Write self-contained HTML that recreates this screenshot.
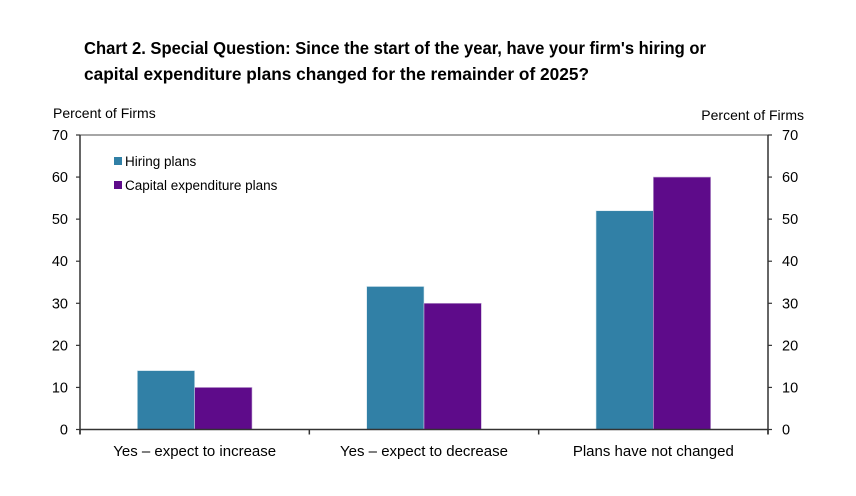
<!DOCTYPE html>
<html><head><meta charset="utf-8"><style>
body{margin:0;background:#fff;width:856px;height:491px;overflow:hidden;font-family:"Liberation Sans",Arial,sans-serif}
svg text{font-family:"Liberation Sans",Arial,sans-serif}
</style></head><body>
<svg id="chart" width="856" height="491">
<text x="84" y="54" font-size="17.5" font-weight="bold" fill="#000" textLength="622" lengthAdjust="spacingAndGlyphs">Chart 2. Special Question: Since the start of the year, have your firm's hiring or</text>
<text x="84" y="80" font-size="17.5" font-weight="bold" fill="#000" textLength="505" lengthAdjust="spacingAndGlyphs">capital expenditure plans changed for the remainder of 2025?</text>
<text x="53" y="118" font-size="14" fill="#000">Percent of Firms</text>
<text x="804" y="120" font-size="14" fill="#000" text-anchor="end">Percent of Firms</text>
<g id="plot"></g>
<g>
<rect x="114" y="157" width="8" height="8" fill="#3180a6"/>
<text x="125" y="166" font-size="13.5">Hiring plans</text>
<rect x="114" y="181" width="8" height="8" fill="#5e0b8a"/>
<text x="125" y="190" font-size="13.5">Capital expenditure plans</text>
</g>
</svg>
<script>
const categories=["Yes \u2013 expect to increase","Yes \u2013 expect to decrease","Plans have not changed"];
const hiring=[14,34,52];
const capex=[10,30,60];
const ticks=[0,10,20,30,40,50,60,70];
const L=80,R=768,T=135,B=429.5,ymax=70;
const y=v=>B-(v/ymax)*(B-T);
const cw=(R-L)/categories.length;
const g=document.getElementById('plot');
const NS='http://www.w3.org/2000/svg';
function mk(t,a){const e=document.createElementNS(NS,t);for(const k in a)e.setAttribute(k,a[k]);g.appendChild(e);return e;}
let e=mk('line',{x1:L,x2:R,y1:T,y2:T,stroke:'#888','stroke-width':1.5});


categories.forEach((c,i)=>{
 const cx=L+cw*(i+0.5),bw=cw*0.25;
 let b=mk('rect',{x:cx-bw,y:y(hiring[i]),width:bw,height:B-y(hiring[i]),fill:'#3180a6',stroke:'#d8e8f0','stroke-width':0.6});
 
 
 b=mk('rect',{x:cx,y:y(capex[i]),width:bw,height:B-y(capex[i]),fill:'#5e0b8a',stroke:'#c8b0d8','stroke-width':0.6});
 
 
 const t=mk('text',{x:cx,y:456,'font-size':15,'text-anchor':'middle'});t.textContent=c;
 
 
});
for(let i=0;i<=categories.length;i++){const x=L+cw*i;const tk=mk('line',{x1:x,x2:x,y1:B,y2:B+5,stroke:'#333','stroke-width':1.5});
 
 }
ticks.forEach(v=>{
 let a=mk('line',{x1:L-4,x2:L,y1:y(v),y2:y(v),stroke:'#333','stroke-width':1.2});
 
 
 a=mk('line',{x1:R,x2:R+4,y1:y(v),y2:y(v),stroke:'#333','stroke-width':1.2});
 
 
 let t=mk('text',{x:68,y:y(v)+5,'font-size':14.5,'text-anchor':'end'});t.textContent=v;
 
 
 t=mk('text',{x:782,y:y(v)+5,'font-size':14.5});t.textContent=v;
 
 
});
e=mk('line',{x1:L,x2:L,y1:T,y2:B+5,stroke:'#333','stroke-width':1.5});


e=mk('line',{x1:R,x2:R,y1:T,y2:B+5,stroke:'#333','stroke-width':1.5});


e=mk('line',{x1:L,x2:R,y1:B,y2:B,stroke:'#333','stroke-width':1.5});


</script>
</body></html>
